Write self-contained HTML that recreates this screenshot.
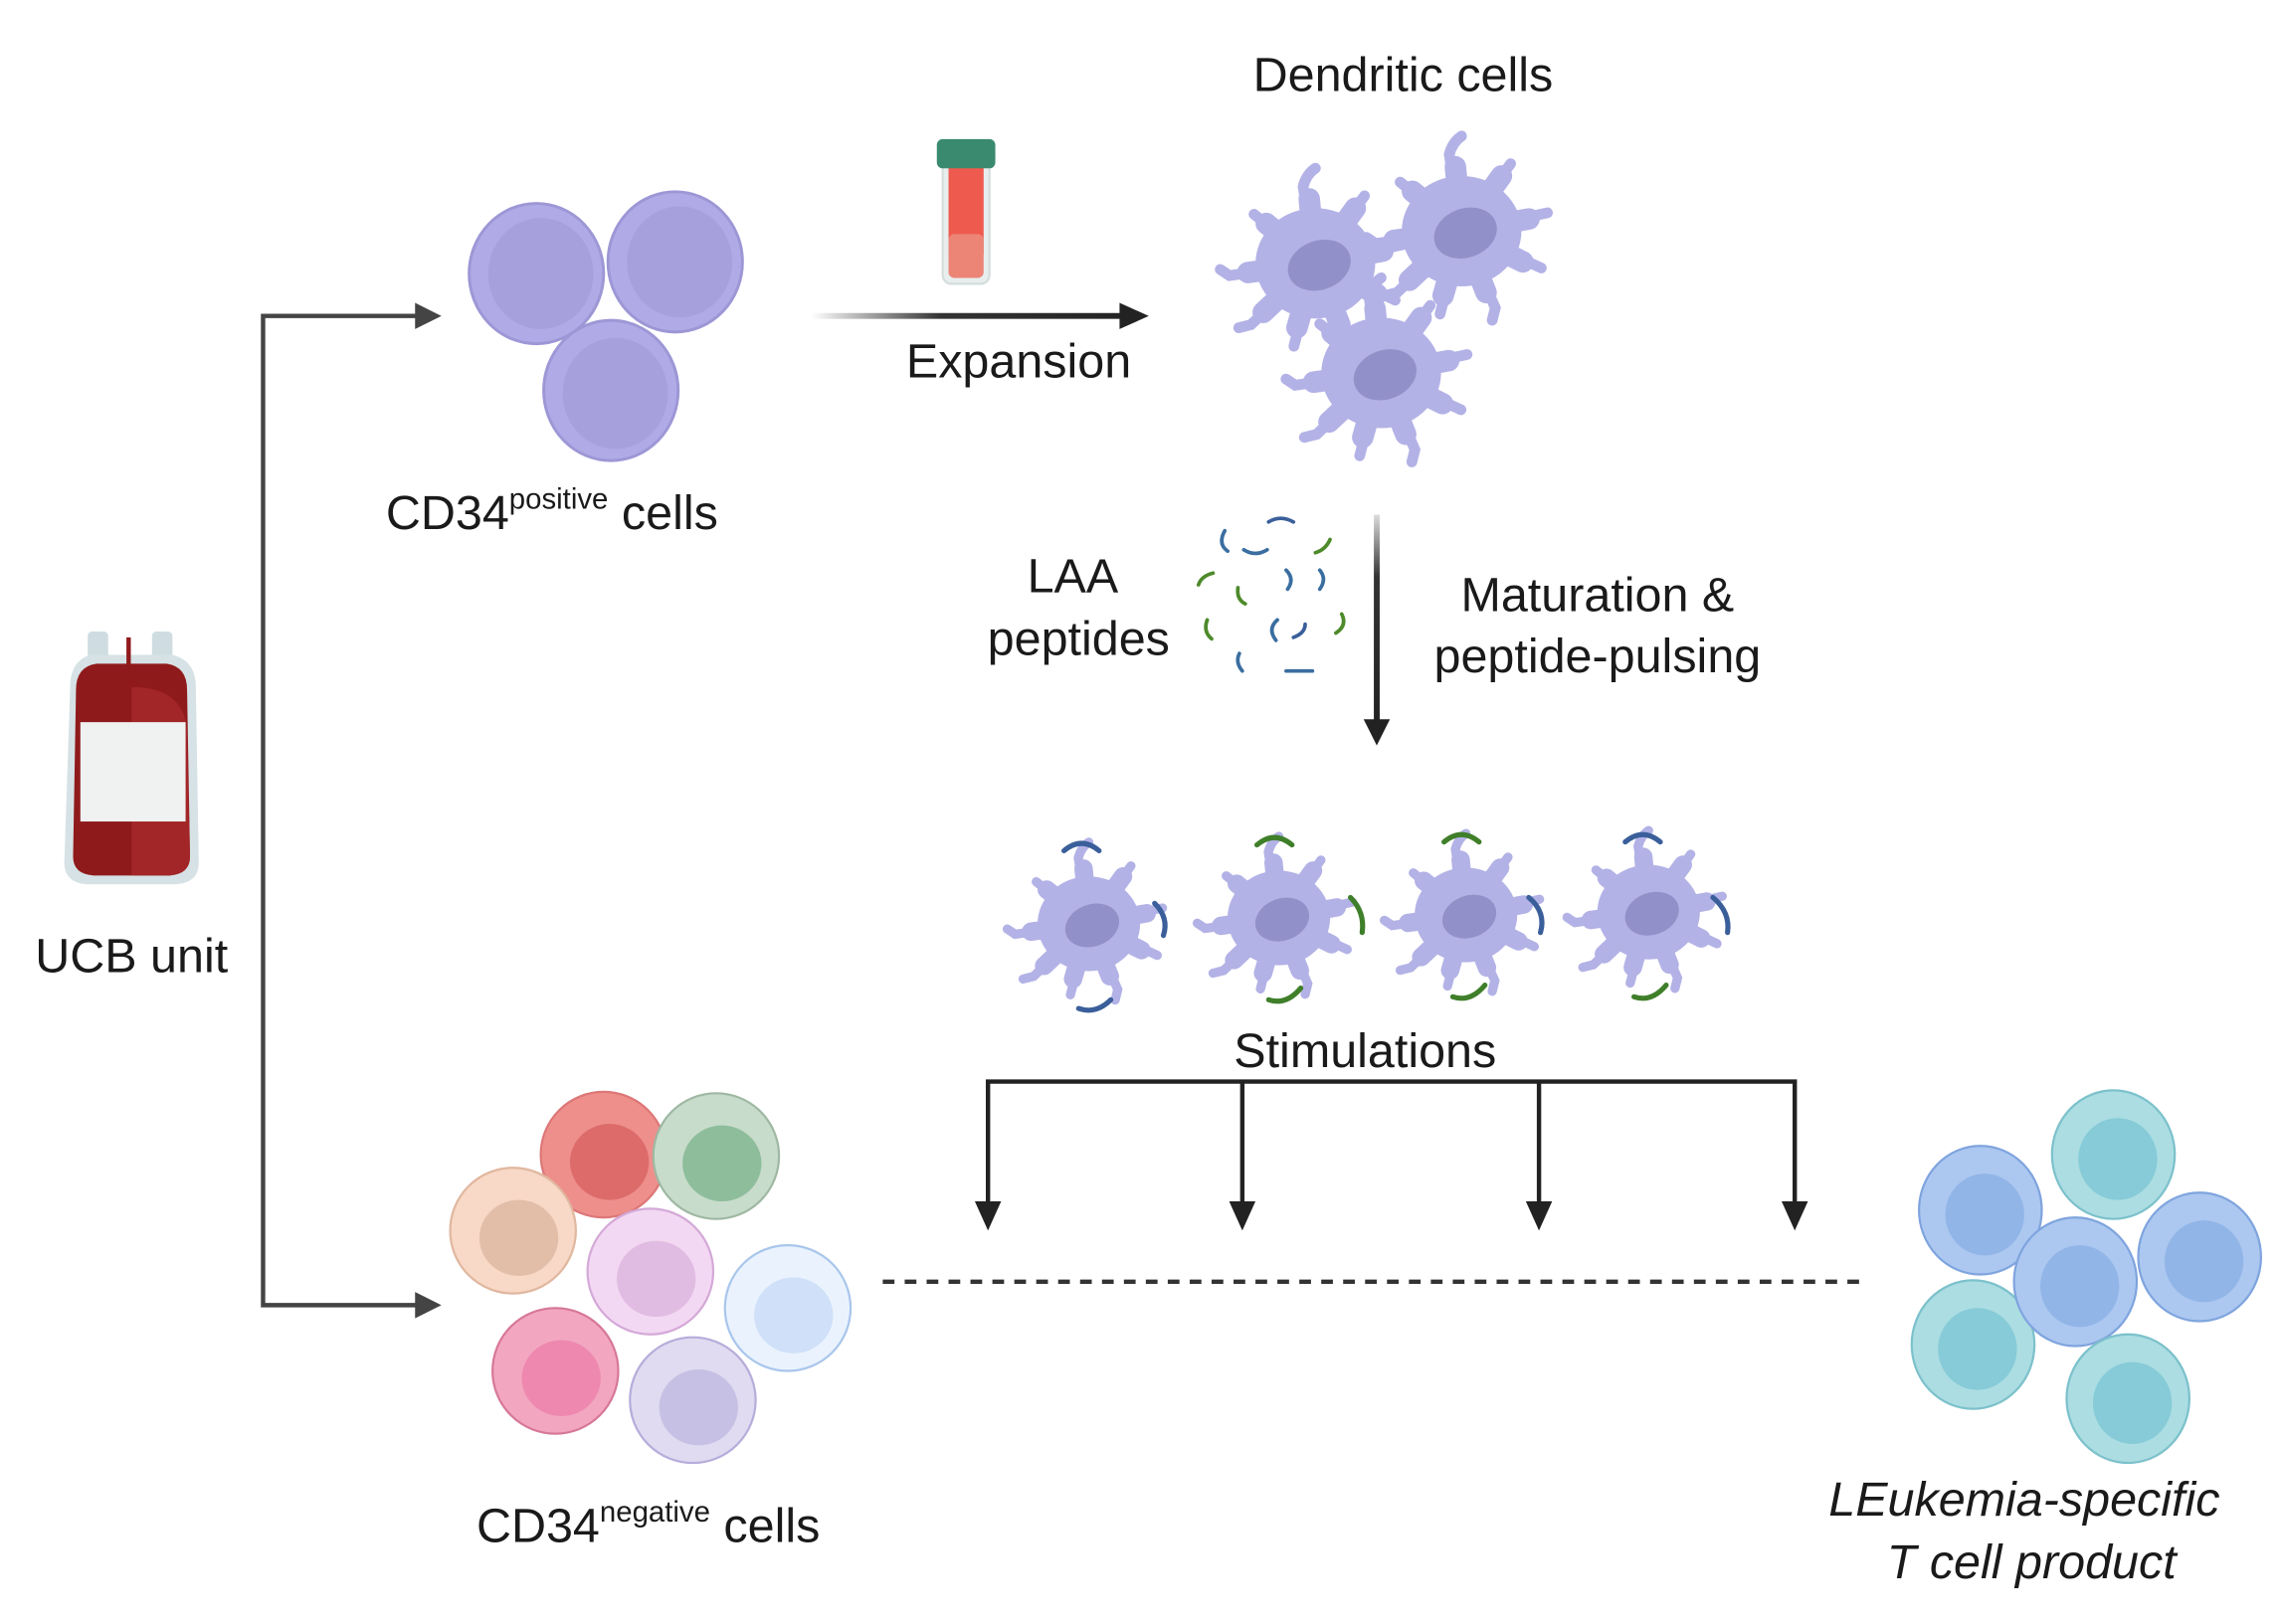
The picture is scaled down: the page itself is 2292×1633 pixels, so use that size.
<!DOCTYPE html>
<html><head><meta charset="utf-8"><style>
html,body{margin:0;padding:0;background:#fff;}
svg{display:block;}
text{font-family:"Liberation Sans","DejaVu Sans",sans-serif;fill:#1a1a1a;}
</style></head><body>
<svg width="2292" height="1633" viewBox="0 0 1560 1111" xmlns="http://www.w3.org/2000/svg">
<defs>
<linearGradient id="eg" x1="0" x2="1" y1="0" y2="0"><stop offset="0" stop-color="#fff"/><stop offset="0.4" stop-color="#333"/><stop offset="1" stop-color="#222"/></linearGradient>
<linearGradient id="vg" x1="0" x2="0" y1="0" y2="1"><stop offset="0" stop-color="#ddd"/><stop offset="0.3" stop-color="#333"/><stop offset="1" stop-color="#222"/></linearGradient>
<g id="dc">
 <g stroke="#b3b2e6" stroke-width="7" stroke-linecap="round" fill="none">
  <path d="M0 0 L-8 -50 Q-6 -58 0 -62"/>
  <path d="M0 0 L32 -44"/>
  <path d="M0 0 L56 -12"/>
  <path d="M0 0 L52 24"/>
  <path d="M0 0 L22 50 L20 58"/>
  <path d="M0 0 L-14 54"/>
  <path d="M0 0 L-42 40 L-50 42"/>
  <path d="M0 0 L-56 8 L-62 4"/>
  <path d="M0 0 L-40 -32"/>
 </g>
 <g stroke="#b3b2e6" stroke-width="14" stroke-linecap="round" fill="none">
  <path d="M0 0 L-4 -42 M0 0 L26 -36 M0 0 L44 -8 M0 0 L40 20 M0 0 L16 40 M0 0 L-12 42 M0 0 L-34 32 M0 0 L-44 6 M0 0 L-32 -26"/>
 </g>
 <ellipse cx="0" cy="0" rx="39" ry="36" fill="#b3b2e6"/>
 <ellipse cx="2" cy="2" rx="21" ry="16" transform="rotate(-20)" fill="#9290c8"/>
</g>
</defs>

<!-- UCB bag -->
<g>
 <rect x="60" y="432" width="14" height="22" rx="3" fill="#cfdde2"/>
 <rect x="104" y="432" width="14" height="22" rx="3" fill="#cfdde2"/>
 <path d="M48 470 Q48 452 62 448 L118 448 Q134 452 134 470 L136 590 Q136 604 120 605 L60 605 Q44 604 44 590 Z" fill="#d6e2e5"/>
 <path d="M52 472 Q52 456 66 454 L114 454 Q128 456 128 472 L130 586 Q130 598 116 599 L64 599 Q50 598 50 586 Z" fill="#8f1a1c"/>
 <path d="M90 470 Q126 470 128 500 L130 586 Q130 598 116 599 L90 599 Z" fill="#a22527"/>
 <rect x="55" y="494" width="72" height="68" fill="#f0f2f1"/>
 <line x1="88" y1="436" x2="88" y2="456" stroke="#8f1a1c" stroke-width="3"/>
</g>
<text x="90" y="665" font-size="33" text-anchor="middle">UCB unit</text>

<!-- branching arrows -->
<path d="M290 216 L180 216 L180 893 L290 893" fill="none" stroke="#444" stroke-width="3"/>
<path d="M302 216 L284 207 L284 225 Z" fill="#444"/>
<path d="M302 893 L284 884 L284 902 Z" fill="#444"/>

<!-- CD34+ cells -->
<g stroke="#9d97d6" stroke-width="2">
 <ellipse cx="367" cy="187" rx="46" ry="48" fill="#b0aae6"/>
 <ellipse cx="462" cy="179" rx="46" ry="48" fill="#b0aae6"/>
 <ellipse cx="418" cy="267" rx="46" ry="48" fill="#b0aae6"/>
</g>
<g fill="#a6a1dd">
 <ellipse cx="370" cy="187" rx="36" ry="38"/>
 <ellipse cx="465" cy="179" rx="36" ry="38"/>
 <ellipse cx="421" cy="269" rx="36" ry="38"/>
</g>
<text x="264" y="362" font-size="33">CD34<tspan font-size="20" dy="-14">positive</tspan><tspan dy="14"> cells</tspan></text>

<!-- tube -->
<g>
 <rect x="645" y="100" width="32" height="94" rx="6" fill="#e8eeee" stroke="#d5dddd" stroke-width="1.5"/>
 <rect x="649" y="112" width="24" height="62" fill="#ef5a4e"/>
 <rect x="649" y="160" width="24" height="30" rx="4" fill="#ec8576"/>
 <rect x="641" y="95" width="40" height="20" rx="4" fill="#3a8a70"/>
</g>
<!-- expansion arrow -->
<rect x="555" y="214" width="222" height="4" fill="url(#eg)"/>
<path d="M786 216 L766 207 L766 225 Z" fill="#222"/>
<text x="697" y="258" font-size="33" text-anchor="middle">Expansion</text>

<!-- dendritic cells -->
<text x="960" y="62" font-size="33" text-anchor="middle">Dendritic cells</text>
<use href="#dc" transform="translate(900,180) scale(1.05)"/>
<use href="#dc" transform="translate(1000,158) scale(1.05)"/>
<use href="#dc" transform="translate(945,255) scale(1.05)"/>

<!-- LAA peptides -->
<text x="734" y="405" font-size="33" text-anchor="middle">LAA</text>
<text x="738" y="448" font-size="33" text-anchor="middle">peptides</text>
<g fill="none" stroke-width="2.5" stroke-linecap="round">
 <path d="M868 357 Q876 352 885 357" stroke="#3a5f9a"/>
 <path d="M838 363 Q833 372 840 377" stroke="#3a6ea0"/>
 <path d="M851 376 Q859 381 867 376" stroke="#3a6ea0"/>
 <path d="M910 369 Q907 376 900 378" stroke="#4d8a2a"/>
 <path d="M830 392 Q822 394 820 400" stroke="#4d8a2a"/>
 <path d="M880 390 Q886 396 881 403" stroke="#3a6ea0"/>
 <path d="M903 390 Q908 396 903 403" stroke="#3a6ea0"/>
 <path d="M847 402 Q846 410 852 413" stroke="#4d8a2a"/>
 <path d="M826 424 Q823 432 829 437" stroke="#4d8a2a"/>
 <path d="M874 424 Q867 430 873 438" stroke="#3a6ea0"/>
 <path d="M893 427 Q893 433 885 436" stroke="#3a5f9a"/>
 <path d="M918 420 Q922 428 914 433" stroke="#4d8a2a"/>
 <path d="M848 447 Q845 453 850 459" stroke="#3a6ea0"/>
 <path d="M880 459 L898 459" stroke="#3a6ea0"/>
</g>
<rect x="940" y="352" width="4" height="142" fill="url(#vg)"/>
<path d="M942 510 L933 492 L951 492 Z" fill="#222"/>
<text x="1093" y="418" font-size="33" text-anchor="middle">Maturation &amp;</text>
<text x="1093" y="460" font-size="33" text-anchor="middle">peptide-pulsing</text>

<!-- peptide-pulsed DCs -->
<use href="#dc" transform="translate(745,632) scale(0.9)"/>
<use href="#dc" transform="translate(875,628) scale(0.9)"/>
<use href="#dc" transform="translate(1003,626) scale(0.9)"/>
<use href="#dc" transform="translate(1128,624) scale(0.9)"/>
<g fill="none" stroke-width="3.5" stroke-linecap="round">
 <path d="M728 582 Q740 572 752 582" stroke="#3a5f9a"/>
 <path d="M790 618 Q800 628 796 640" stroke="#3a5f9a"/>
 <path d="M738 690 Q750 694 760 684" stroke="#3a5f9a"/>
 <path d="M860 578 Q872 568 884 578" stroke="#3f7f2a"/>
 <path d="M924 614 Q934 624 932 638" stroke="#3f7f2a"/>
 <path d="M868 684 Q880 688 890 676" stroke="#3f7f2a"/>
 <path d="M988 576 Q1000 566 1012 576" stroke="#3f7f2a"/>
 <path d="M1046 614 Q1058 624 1054 638" stroke="#3a5f9a"/>
 <path d="M994 682 Q1006 686 1016 674" stroke="#3f7f2a"/>
 <path d="M1112 576 Q1124 566 1136 576" stroke="#3a5f9a"/>
 <path d="M1172 614 Q1184 624 1182 638" stroke="#3a5f9a"/>
 <path d="M1118 682 Q1130 686 1140 674" stroke="#3f7f2a"/>
</g>
<text x="934" y="730" font-size="33" text-anchor="middle">Stimulations</text>

<!-- bracket arrows -->
<path d="M676 826 L676 740 L1228 740 L1228 826 M850 740 L850 826 M1053 740 L1053 826" fill="none" stroke="#222" stroke-width="3"/>
<g fill="#222">
 <path d="M676 842 L667 822 L685 822 Z"/>
 <path d="M850 842 L841 822 L859 822 Z"/>
 <path d="M1053 842 L1044 822 L1062 822 Z"/>
 <path d="M1228 842 L1219 822 L1237 822 Z"/>
</g>
<line x1="604" y1="877" x2="1272" y2="877" stroke="#333" stroke-width="3" stroke-dasharray="8 7"/>

<!-- CD34- cells -->
<g stroke-width="1.5">
 <ellipse cx="413" cy="790" rx="43" ry="43" fill="#ee8f8c" stroke="#d77"/>
 <ellipse cx="417" cy="795" rx="27" ry="26" fill="#dc6b69" stroke="none"/>
 <ellipse cx="490" cy="791" rx="43" ry="43" fill="#c8dccb" stroke="#9fb8a3"/>
 <ellipse cx="494" cy="796" rx="27" ry="26" fill="#8ebd9c" stroke="none"/>
 <ellipse cx="351" cy="842" rx="43" ry="43" fill="#f8d8c6" stroke="#e0b79f"/>
 <ellipse cx="355" cy="847" rx="27" ry="26" fill="#e2bea9" stroke="none"/>
 <ellipse cx="445" cy="870" rx="43" ry="43" fill="#f3d8f3" stroke="#d4a9d8"/>
 <ellipse cx="449" cy="875" rx="27" ry="26" fill="#e0bce2" stroke="none"/>
 <ellipse cx="539" cy="895" rx="43" ry="43" fill="#eaf3fd" stroke="#a9c6ec"/>
 <ellipse cx="543" cy="900" rx="27" ry="26" fill="#cfe0f8" stroke="none"/>
 <ellipse cx="380" cy="938" rx="43" ry="43" fill="#f3a6c0" stroke="#d67799"/>
 <ellipse cx="384" cy="943" rx="27" ry="26" fill="#ee88ae" stroke="none"/>
 <ellipse cx="474" cy="958" rx="43" ry="43" fill="#e0dbf0" stroke="#b6addb"/>
 <ellipse cx="478" cy="963" rx="27" ry="26" fill="#c6c1e4" stroke="none"/>
</g>
<text x="326" y="1055" font-size="33">CD34<tspan font-size="20" dy="-14">negative</tspan><tspan dy="14"> cells</tspan></text>

<!-- T cells -->
<g stroke-width="1.5">
 <ellipse cx="1446" cy="790" rx="42" ry="44" fill="#abdde2" stroke="#7cc1cb"/>
 <ellipse cx="1449" cy="793" rx="27" ry="28" fill="#86cbd7" stroke="none"/>
 <ellipse cx="1355" cy="828" rx="42" ry="44" fill="#acc8f0" stroke="#7fa4de"/>
 <ellipse cx="1358" cy="831" rx="27" ry="28" fill="#92b5e8" stroke="none"/>
 <ellipse cx="1505" cy="860" rx="42" ry="44" fill="#acc8f0" stroke="#7fa4de"/>
 <ellipse cx="1508" cy="863" rx="27" ry="28" fill="#92b5e8" stroke="none"/>
 <ellipse cx="1350" cy="920" rx="42" ry="44" fill="#abdde2" stroke="#7cc1cb"/>
 <ellipse cx="1353" cy="923" rx="27" ry="28" fill="#86cbd7" stroke="none"/>
 <ellipse cx="1420" cy="877" rx="42" ry="44" fill="#acc8f0" stroke="#7fa4de"/>
 <ellipse cx="1423" cy="880" rx="27" ry="28" fill="#92b5e8" stroke="none"/>
 <ellipse cx="1456" cy="957" rx="42" ry="44" fill="#abdde2" stroke="#7cc1cb"/>
 <ellipse cx="1459" cy="960" rx="27" ry="28" fill="#86cbd7" stroke="none"/>
</g>
<text x="1385" y="1037" font-size="33" font-style="italic" text-anchor="middle">LEukemia-specific</text>
<text x="1390" y="1080" font-size="33" font-style="italic" text-anchor="middle">T cell product</text>
</svg>
</body></html>
